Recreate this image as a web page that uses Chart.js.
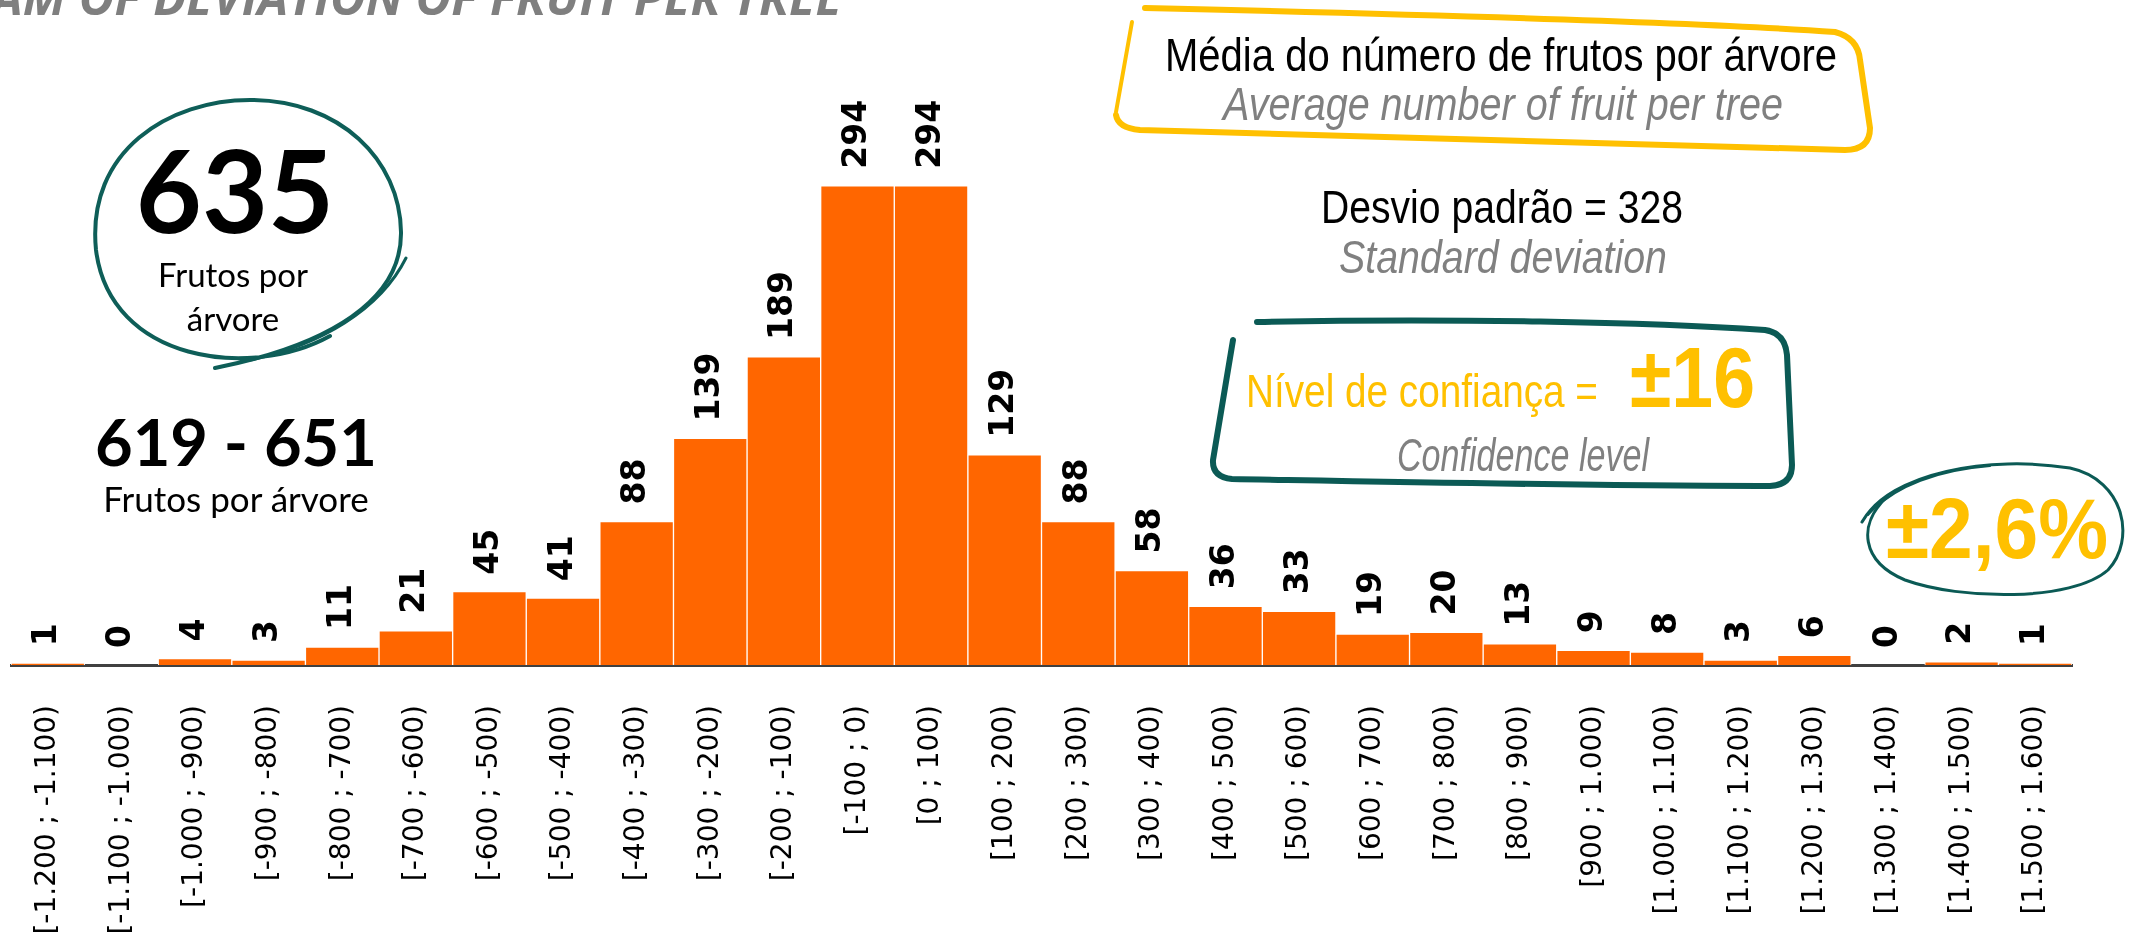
<!DOCTYPE html>
<html>
<head>
<meta charset="utf-8">
<script src="https://cdn.jsdelivr.net/npm/chart.js@4/dist/chart.umd.min.js"></script>
<style>
  html, body { margin: 0; padding: 0; background: #fff; overflow: hidden; }
  #wrap { position: relative; width: 2142px; height: 933px; }
  #histo { position: absolute; left: 0; top: 0; }
  #notes { position: absolute; left: 0; top: 0; pointer-events: none; }
  .narrow { font-family: "Liberation Sans", Arial, sans-serif; }
  .calib { font-family: Lato, "Open Sans", sans-serif; }
</style>
</head>
<body>
<div id="wrap">
  <canvas id="histo" width="2142" height="933"></canvas>
  <svg id="notes" width="2142" height="933" xmlns="http://www.w3.org/2000/svg">
    <!-- cut-off title -->
    <text x="842" y="15" text-anchor="end" font-family="Open Sans" font-weight="bold" font-style="italic" font-size="49" fill="#7f7f7f">HISTOGRAM OF DEVIATION OF FRUIT PER TREE</text>

    <!-- mean circle, left -->
    <path d="M 330 336 C 250 380, 110 362, 96 250 C 86 150, 170 100, 250 100 C 340 100, 400 160, 401 232 C 402 300, 330 345, 215 368"
          fill="none" stroke="#0e5e58" stroke-width="4" stroke-linecap="round"/>
    <path d="M 250 360 C 320 345, 380 310, 406 258" fill="none" stroke="#0e5e58" stroke-width="3" stroke-linecap="round"/>
    <text class="calib" x="235" y="233" text-anchor="middle" font-weight="bold" font-size="114" fill="#000">635</text>
    <text class="calib" x="233" y="287" text-anchor="middle" font-size="33" fill="#000">Frutos por</text>
    <text class="calib" x="233" y="331" text-anchor="middle" font-size="33" fill="#000">árvore</text>
    <text class="calib" x="236" y="466" text-anchor="middle" font-weight="bold" font-size="65" fill="#000">619 - 651</text>
    <text class="calib" x="236" y="512" text-anchor="middle" font-size="35" fill="#000">Frutos por árvore</text>

    <!-- yellow box -->
    <path d="M 1145 8 C 1400 14, 1700 22, 1835 32 Q 1858 38, 1860 60 L 1870 128 Q 1870 150, 1845 150 C 1600 143, 1350 136, 1140 130 Q 1118 128, 1116 115"
          fill="none" stroke="#ffc000" stroke-width="6" stroke-linecap="round"/>
    <path d="M 1116 112 L 1132 22" fill="none" stroke="#ffc000" stroke-width="4" stroke-linecap="round"/>
    <text class="narrow" x="1165" y="71" textLength="672" lengthAdjust="spacingAndGlyphs" font-size="47" fill="#000">Média do número de frutos  por árvore</text>
    <text class="narrow" x="1223" y="120" textLength="560" lengthAdjust="spacingAndGlyphs" font-size="47" font-style="italic" fill="#808080">Average number of fruit per tree</text>

    <text class="narrow" x="1321" y="223" textLength="362" lengthAdjust="spacingAndGlyphs" font-size="47" fill="#000">Desvio padrão = 328</text>
    <text class="narrow" x="1339" y="273" textLength="328" lengthAdjust="spacingAndGlyphs" font-size="47" font-style="italic" fill="#808080">Standard deviation</text>

    <!-- teal box -->
    <path d="M 1257 322 C 1450 318, 1650 322, 1765 330 Q 1785 333, 1787 355 L 1792 465 Q 1792 485, 1770 486 C 1600 486, 1400 482, 1232 479 Q 1212 477, 1213 460 L 1233 340"
          fill="none" stroke="#0b5a55" stroke-width="6" stroke-linecap="round"/>
    <text class="narrow" x="1246" y="407" textLength="352" lengthAdjust="spacingAndGlyphs" font-size="47" fill="#ffc000">Nível de confiança =</text>
    <text class="narrow" x="1630" y="407" textLength="125" lengthAdjust="spacingAndGlyphs" font-size="85" font-weight="bold" fill="#ffc000">±16</text>
    <text class="narrow" x="1397" y="471" textLength="252" lengthAdjust="spacingAndGlyphs" font-size="47" font-style="italic" fill="#808080">Confidence level</text>

    <!-- percentage ellipse -->
    <path d="M 1862 522 C 1890 472, 1990 455, 2070 468 C 2125 480, 2136 540, 2108 570 C 2072 602, 1960 600, 1905 580 C 1862 562, 1856 525, 1888 496"
          fill="none" stroke="#0b5a55" stroke-width="3" stroke-linecap="round"/>
    <path d="M 1868 515 C 1895 485, 1940 470, 1990 466" fill="none" stroke="#0b5a55" stroke-width="2" stroke-linecap="round"/>
    <text class="narrow" x="1886" y="558" textLength="222" lengthAdjust="spacingAndGlyphs" font-size="86" font-weight="bold" fill="#ffc000">±2,6%</text>
  </svg>
</div>
<script>
// histogram bins and counts
const bins = [
    '[-1.200 ; -1.100)', '[-1.100 ; -1.000)', '[-1.000 ; -900)', '[-900 ; -800)',
    '[-800 ; -700)', '[-700 ; -600)', '[-600 ; -500)', '[-500 ; -400)',
    '[-400 ; -300)', '[-300 ; -200)', '[-200 ; -100)', '[-100 ; 0)',
    '[0 ; 100)', '[100 ; 200)', '[200 ; 300)', '[300 ; 400)',
    '[400 ; 500)', '[500 ; 600)', '[600 ; 700)', '[700 ; 800)',
    '[800 ; 900)', '[900 ; 1.000)', '[1.000 ; 1.100)', '[1.100 ; 1.200)',
    '[1.200 ; 1.300)', '[1.300 ; 1.400)', '[1.400 ; 1.500)', '[1.500 ; 1.600)'
];
const counts = [1, 0, 4, 3, 11, 21, 45, 41, 88, 139, 189, 294, 294, 129,
    88, 58, 36, 33, 19, 20, 13, 9, 8, 3, 6, 0, 2, 1];

// rotated count labels above each bar
const valueLabels = {
    id: 'valueLabels',
    afterDatasetsDraw(chart) {
        const ctx = chart.ctx;
        const meta = chart.getDatasetMeta(0);
        ctx.save();
        ctx.font = 'bold 33px "DejaVu Sans"';
        ctx.fillStyle = '#000';
        ctx.textAlign = 'left';
        ctx.textBaseline = 'middle';
        meta.data.forEach((bar, i) => {
            ctx.save();
            ctx.translate(bar.x, bar.y - 17);
            ctx.rotate(-Math.PI / 2);
            ctx.fillText(String(counts[i]), 0, 0);
            ctx.restore();
        });
        ctx.restore();
    }
};

const ctx = document.getElementById('histo').getContext('2d');

new Chart(ctx, {
    type: 'bar',
    data: {
        labels: bins,
        datasets: [{
            data: counts,
            backgroundColor: '#ff6600',
            borderColor: '#ffffff',
            borderWidth: 1,
            barPercentage: 1,
            categoryPercentage: 1
        }]
    },
    options: {
        responsive: false,
        animation: false,
        devicePixelRatio: 1,
        layout: { padding: { top: 13, left: 11, right: 70, bottom: 0 } },
        plugins: {
            legend: { display: false },
            tooltip: { enabled: false }
        },
        scales: {
            x: {
                z: 1,
                grid: { display: false, drawTicks: false },
                border: { display: true, color: '#404040', width: 3 },
                ticks: {
                    autoSkip: false,
                    minRotation: 90,
                    maxRotation: 90,
                    padding: 40,
                    color: '#000',
                    font: { family: 'DejaVu Sans', size: 28 }
                },
                afterFit(scale) { scale.height = 268; }
            },
            y: { display: false, min: 0, max: 400 }
        }
    },
    plugins: [valueLabels]
});
</script>
</body>
</html>
